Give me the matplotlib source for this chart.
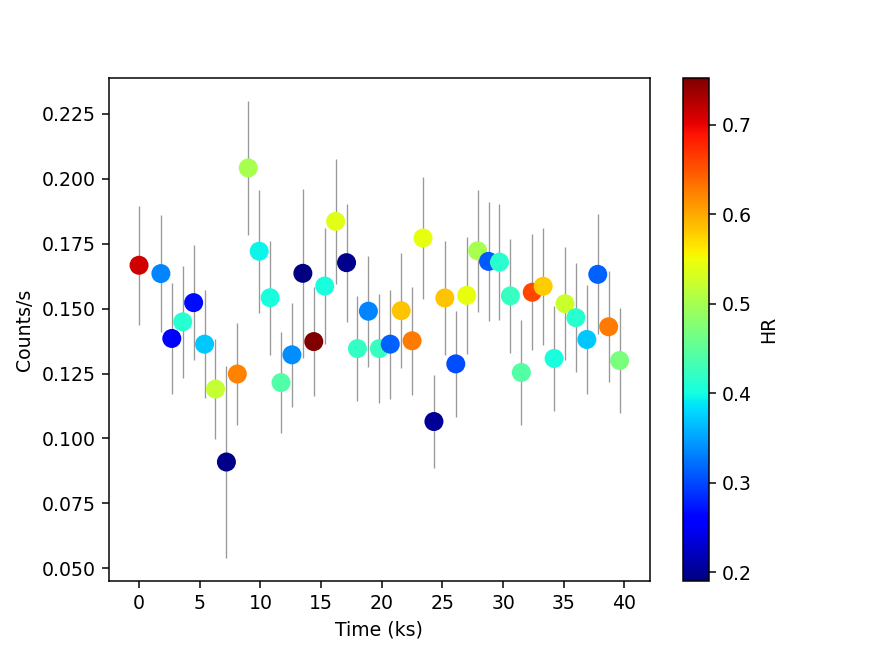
import matplotlib
matplotlib.use('Agg')
import matplotlib.pyplot as plt

# light curve bins (ks), count rate, 1-sigma error, hardness ratio
time = [0.0, 1.8, 2.7, 3.6, 4.5, 5.4, 6.3, 7.2, 8.1, 9.0,
        9.9, 10.8, 11.7, 12.6, 13.5, 14.4, 15.3, 16.2, 17.1, 18.0,
        18.9, 19.8, 20.7, 21.6, 22.5, 23.4, 24.3, 25.2, 26.1, 27.0,
        27.9, 28.8, 29.7, 30.6, 31.5, 32.4, 33.3, 34.2, 35.1, 36.0,
        36.9, 37.8, 38.7, 39.6]
rate = [0.1667, 0.1635, 0.1385, 0.1449, 0.1523, 0.1363, 0.1190, 0.0909, 0.1248, 0.2042,
        0.1721, 0.1542, 0.1215, 0.1322, 0.1636, 0.1373, 0.1587, 0.1836, 0.1677, 0.1346,
        0.1490, 0.1346, 0.1363, 0.1492, 0.1376, 0.1772, 0.1065, 0.1541, 0.1287, 0.1551,
        0.1723, 0.1682, 0.1679, 0.1549, 0.1254, 0.1563, 0.1586, 0.1308, 0.1519, 0.1465,
        0.1381, 0.1632, 0.1430, 0.1300]
rate_err = [0.0229, 0.0225, 0.0213, 0.0215, 0.0221, 0.0208, 0.0192, 0.0371, 0.0196, 0.0257,
            0.0236, 0.0220, 0.0196, 0.0201, 0.0325, 0.0210, 0.0225, 0.0242, 0.0227, 0.0203,
            0.0214, 0.0210, 0.0210, 0.0221, 0.0207, 0.0235, 0.0180, 0.0219, 0.0204, 0.0226,
            0.0235, 0.0230, 0.0224, 0.0219, 0.0201, 0.0224, 0.0226, 0.0202, 0.0217, 0.0211,
            0.0210, 0.0231, 0.0214, 0.0204]
hr = [0.712, 0.333, 0.254, 0.412, 0.266, 0.372, 0.520, 0.196, 0.624, 0.500,
      0.396, 0.404, 0.441, 0.338, 0.190, 0.752, 0.404, 0.540, 0.197, 0.421,
      0.333, 0.424, 0.315, 0.585, 0.627, 0.545, 0.201, 0.584, 0.302, 0.545,
      0.500, 0.310, 0.414, 0.424, 0.444, 0.658, 0.579, 0.404, 0.525, 0.414,
      0.372, 0.315, 0.628, 0.469]

bin_half = 0.45  # half of the 0.9 ks bin

fig = plt.figure(figsize=(872 / 136, 653 / 136), dpi=136)
plt.errorbar(time, rate, yerr=rate_err, xerr=bin_half, fmt='none',
             ecolor='grey', elinewidth=0.7, alpha=0.8)
sc = plt.scatter(time, rate, c=hr, cmap='jet', s=82, zorder=3)
plt.colorbar(sc, label='HR')
plt.xlabel('Time (ks)')
plt.ylabel('Counts/s')
plt.savefig('out.png', dpi=136)
